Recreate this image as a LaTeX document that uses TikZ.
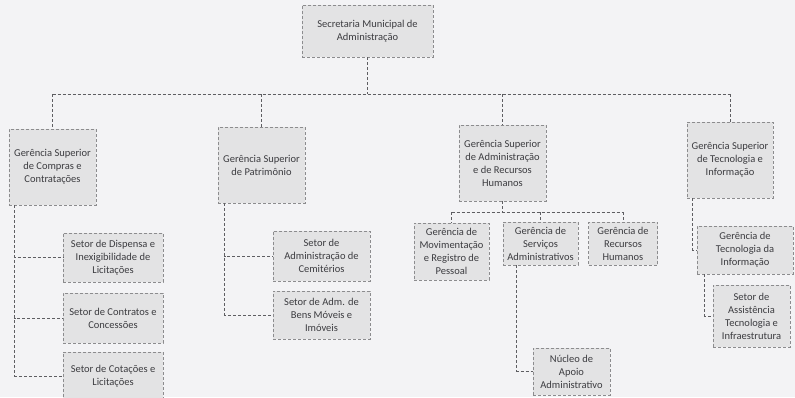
\documentclass[tikz,border=0pt]{standalone}
\usepackage{fontspec}
\setmainfont{Carlito}
\begin{document}
\begin{tikzpicture}[x=1pt,y=-1pt,
  every node/.style={font=\fontsize{10.5}{13}\selectfont, text=txt},
  unit/.style={draw=edge, densely dashed, line width=0.5pt, fill=boxfill,
    align=center, inner sep=1pt},
  link/.style={draw=wire, densely dashed, line width=0.6pt},
]
\definecolor{bg}{HTML}{F3F3F5}
\definecolor{boxfill}{HTML}{E3E3E4}
\definecolor{edge}{HTML}{8C8C8E}
\definecolor{wire}{HTML}{5E5E62}
\definecolor{txt}{HTML}{3C3C40}

\fill[bg] (0,0) rectangle (795,397);
\useasboundingbox (0,0) rectangle (795,397);

% top of the hierarchy
\node[unit, minimum width=131, minimum height=52] (sec) at (367.5,31)
  {Secretaria Municipal de\\Administração};

% superior managements
\node[unit, minimum width=87, minimum height=76] (gcc) at (52.5,167)
  {Gerência Superior\\de Compras e\\Contratações};
\node[unit, minimum width=87, minimum height=76] (gpat) at (261.5,165)
  {Gerência Superior\\de Patrimônio};
\node[unit, minimum width=87, minimum height=76] (garh) at (502.5,163)
  {Gerência Superior\\de Administração\\e de Recursos\\Humanos};
\node[unit, minimum width=86, minimum height=76] (gti) at (730,160)
  {Gerência Superior\\de Tecnologia e\\Informação};

% purchasing sectors
\node[unit, minimum width=100, minimum height=49] (disp) at (113,257.5)
  {Setor de Dispensa e\\Inexigibilidade de\\Licitações};
\node[unit, minimum width=100, minimum height=50] (contr) at (113,318)
  {Setor de Contratos e\\Concessões};
\node[unit, minimum width=100, minimum height=48] (cot) at (113,376)
  {Setor de Cotações e\\Licitações};

% property sectors
\node[unit, minimum width=97, minimum height=50] (cem) at (321.5,256)
  {Setor de\\Administração de\\Cemitérios};
\node[unit, minimum width=97, minimum height=48] (bens) at (321.5,315)
  {Setor de Adm. de\\Bens Móveis e\\Imóveis};

% administration and HR managements
\node[unit, minimum width=75, minimum height=57] (mov) at (451.5,251.5)
  {Gerência de\\Movimentação\\e Registro de\\Pessoal};
\node[unit, minimum width=75, minimum height=43] (serv) at (540.5,243.5)
  {Gerência de\\Serviços\\Administrativos};
\node[unit, minimum width=69, minimum height=43] (rh) at (623,243.5)
  {Gerência de\\Recursos\\Humanos};
\node[unit, minimum width=77, minimum height=47] (nucleo) at (571.5,371.5)
  {Núcleo de\\Apoio\\Administrativo};

% technology branch
\node[unit, minimum width=96, minimum height=48] (gtec) at (745,250)
  {Gerência de\\Tecnologia da\\Informação};
\node[unit, minimum width=77, minimum height=62] (sati) at (751.5,316)
  {Setor de\\Assistência\\Tecnologia e\\Infraestrutura};

% connectors: top level
\coordinate (bus) at (0,94);
\draw[link] (sec.south) -- (sec.south |- bus);
\draw[link] (gcc.north |- bus) -- (gti.north |- bus);
\foreach \n in {gcc,gpat,garh,gti}
  \draw[link] (\n.north |- bus) -- (\n.north);

% purchasing branch
\foreach \n in {disp,contr,cot}
  \draw[link] ([xshift=6]gcc.south west) |- (\n.west);

% property branch
\foreach \n in {cem,bens}
  \draw[link] ([xshift=7]gpat.south west) |- (\n.west);

% administration and HR branch
\coordinate (hbus) at (0,212);
\draw[link] (garh.south) -- (garh.south |- hbus);
\draw[link] (mov.north |- hbus) -- (rh.north |- hbus);
\foreach \n in {mov,serv,rh}
  \draw[link] (\n.north |- hbus) -- (\n.north);
\draw[link] ([xshift=14]serv.south west) |- (nucleo.west);

% technology branch
\draw[link] ([xshift=6]gti.south west) |- (gtec.west);
\draw[link] ([xshift=8]gtec.south west) |- (sati.west);
\end{tikzpicture}
\end{document}
